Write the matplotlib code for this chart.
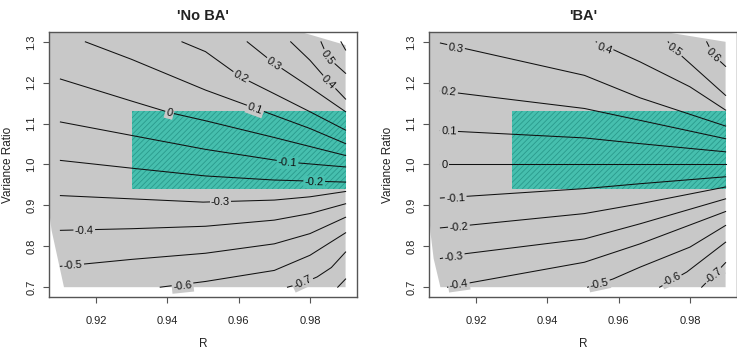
import matplotlib.pyplot as plt
from matplotlib.patches import Rectangle, Polygon

plt.rcParams['font.family'] = ['Liberation Sans', 'DejaVu Sans']
plt.rcParams['hatch.linewidth'] = 0.6

# values
titles = ["'No BA'", "'BA'"]
r_ticks = [0.92, 0.94, 0.96, 0.98]
vr_ticks = [0.7, 0.8, 0.9, 1.0, 1.1, 1.2, 1.3]

# target region (teal box)
box_R = [0.93, 0.99]
box_VR = [0.94, 1.13]

# grey area covered by the simulations
noba_gray_R = [0.9068, 0.9775, 0.99, 0.99, 0.9110, 0.9090, 0.9075, 0.9068]
noba_gray_VR = [1.324, 1.324, 1.292, 0.70, 0.70, 0.78, 0.84, 0.89]
ba_gray_R = [0.9068, 0.973, 0.99, 0.99, 0.9100, 0.9081, 0.9072, 0.9068]
ba_gray_VR = [1.324, 1.324, 1.30, 0.70, 0.70, 0.77, 0.835, 0.89]

# 'No BA' contour lines
noba_R = [
    [0.9887, 0.99],
    [0.9831, 0.985, 0.99],
    [0.9746, 0.980, 0.9845, 0.99],
    [0.9624, 0.970, 0.980, 0.99],
    [0.9441, 0.9507, 0.9606, 0.97, 0.98, 0.99],
    [0.917, 0.93, 0.9507, 0.9648, 0.98, 0.99],
    [0.91, 0.93, 0.9406, 0.9507, 0.97, 0.99],
    [0.91, 0.93, 0.9507, 0.9737, 0.99],
    [0.91, 0.93, 0.9507, 0.97, 0.99],
    [0.91, 0.93, 0.95, 0.97, 0.98, 0.99],
    [0.91, 0.93, 0.9507, 0.97, 0.98, 0.99],
    [0.91, 0.93, 0.9507, 0.97, 0.98, 0.99],
    [0.938, 0.9507, 0.97, 0.98, 0.99],
    [0.9737, 0.978, 0.982, 0.986, 0.99],
    [0.9878, 0.99],
]
noba_VR = [
    [1.30, 1.28],
    [1.30, 1.262, 1.223],
    [1.30, 1.255, 1.21, 1.16],
    [1.30, 1.247, 1.189, 1.129],
    [1.30, 1.276, 1.214, 1.173, 1.129, 1.084],
    [1.30, 1.257, 1.182, 1.137, 1.088, 1.051],
    [1.209, 1.155, 1.127, 1.107, 1.066, 1.022],
    [1.104, 1.071, 1.037, 1.006, 0.994],
    [1.010, 0.991, 0.972, 0.962, 0.957],
    [0.924, 0.916, 0.908, 0.913, 0.921, 0.934],
    [0.839, 0.843, 0.849, 0.864, 0.880, 0.904],
    [0.751, 0.768, 0.783, 0.806, 0.831, 0.871],
    [0.70, 0.714, 0.741, 0.778, 0.833],
    [0.70, 0.71, 0.725, 0.748, 0.786],
    [0.70, 0.72],
]
noba_lab = ['0.5', '0.4', '0.3', '0.2', '0.1', '0', '-0.1', '-0.2', '-0.3', '-0.4', '-0.5', '-0.6', '-0.7']
noba_lab_R = [0.985, 0.9852, 0.9699, 0.9606, 0.9646, 0.9406, 0.9737, 0.9812, 0.9549, 0.9167, 0.9136, 0.9443, 0.978]
noba_lab_VR = [1.262, 1.20, 1.247, 1.214, 1.135, 1.127, 1.004, 0.957, 0.908, 0.837, 0.753, 0.702, 0.712]
noba_lab_rot = [-55, -45, -35, -28, -20, -15, -4, -1, 0, 1, 4, 6, 25]

# 'BA' contour lines
ba_R = [
    [0.9847, 0.9866, 0.99],
    [0.9739, 0.9758, 0.99],
    [0.9537, 0.966, 0.98, 0.99],
    [0.91, 0.9504, 0.966, 0.99],
    [0.91, 0.9504, 0.966, 0.99],
    [0.91, 0.9504, 0.966, 0.99],
    [0.91, 0.99],
    [0.91, 0.9504, 0.966, 0.99],
    [0.91, 0.9185, 0.9504, 0.966, 0.99],
    [0.91, 0.9171, 0.9504, 0.966, 0.99],
    [0.912, 0.9185, 0.9504, 0.966, 0.99],
    [0.9513, 0.9584, 0.966, 0.98, 0.99],
    [0.9715, 0.9791, 0.99],
    [0.9833, 0.9866, 0.99],
]
ba_VR = [
    [1.30, 1.267, 1.24],
    [1.30, 1.28, 1.169],
    [1.30, 1.251, 1.19, 1.133],
    [1.297, 1.218, 1.163, 1.094],
    [1.18, 1.137, 1.108, 1.063],
    [1.083, 1.065, 1.051, 1.031],
    [1.0, 1.0],
    [0.918, 0.941, 0.953, 0.970],
    [0.845, 0.852, 0.880, 0.904, 0.945],
    [0.770, 0.782, 0.818, 0.855, 0.916],
    [0.70, 0.711, 0.761, 0.806, 0.885],
    [0.70, 0.72, 0.749, 0.798, 0.851],
    [0.70, 0.737, 0.810],
    [0.70, 0.729, 0.76],
]
ba_lab = ['0.6', '0.5', '0.4', '0.3', '0.2', '0.1', '0', '-0.1', '-0.2', '-0.3', '-0.4', '-0.5', '-0.6', '-0.7']
ba_lab_R = [0.9866, 0.9758, 0.956, 0.9143, 0.9124, 0.9124, 0.9111, 0.9143, 0.9152, 0.9138, 0.9152, 0.9546, 0.9748, 0.9866]
ba_lab_VR = [1.267, 1.28, 1.284, 1.284, 1.178, 1.081, 1.0, 0.918, 0.847, 0.773, 0.706, 0.708, 0.72, 0.729]
ba_lab_rot = [-45, -35, -20, -10, -6, -2, 0, 3, 4, 6, 8, 12, 25, 40]

GRAY = '#c8c8c8'
TEAL = '#46bfae'
HATCH = '#2a9a8c'


def draw_panel(ax, title, gray_R, gray_VR, Rs, VRs, labs, lab_R, lab_VR, lab_rot):
    ax.add_patch(Polygon(list(zip(gray_R, gray_VR)), closed=True,
                         facecolor=GRAY, edgecolor='none', zorder=1))
    ax.add_patch(Rectangle((box_R[0], box_VR[0]), box_R[1] - box_R[0], box_VR[1] - box_VR[0],
                           facecolor=TEAL, edgecolor=HATCH, hatch='//////', lw=0, zorder=2))
    for r, v in zip(Rs, VRs):
        ax.plot(r, v, color='#111111', lw=0.75, zorder=3)
    for t, r, v, rot in zip(labs, lab_R, lab_VR, lab_rot):
        # label gap takes the colour of what lies under it
        inside = (box_R[0] <= r <= box_R[1]) and (box_VR[0] + 0.01 <= v <= box_VR[1] - 0.01)
        ax.text(r, v, t, fontsize=8, rotation=rot, rotation_mode='anchor',
                ha='center', va='center', color='#111111', zorder=4,
                bbox=dict(boxstyle='square,pad=0.12', fc=TEAL if inside else GRAY, ec='none'))

    ax.set_xlim(0.9068, 0.9932)
    ax.set_ylim(0.676, 1.324)
    ax.set_xticks(r_ticks)
    ax.set_xticklabels([f'{x:.2f}' for x in r_ticks])
    ax.set_yticks(vr_ticks)
    ax.set_yticklabels([f'{y:.1f}' for y in vr_ticks], rotation=90, va='center')
    ax.tick_params(axis='x', length=4, pad=10, labelsize=8, color='#555555', labelcolor='#222222')
    ax.tick_params(axis='y', length=4, pad=5, labelsize=8, color='#555555', labelcolor='#222222')
    for s in ax.spines.values():
        s.set_color('#555555')
        s.set_linewidth(1.0)
    ax.set_xlabel('R', fontsize=8.5, labelpad=8, color='#222222')
    ax.set_ylabel('Variance Ratio', fontsize=8.5, labelpad=9, color='#222222')
    ax.set_title(title, fontsize=10.5, fontweight='bold', pad=9, color='#222222')


fig = plt.figure(figsize=(7.37, 3.5), dpi=100)
ax1 = fig.add_axes([49 / 737, 53 / 350, 308 / 737, 265 / 350])
ax2 = fig.add_axes([429 / 737, 53 / 350, 308 / 737, 265 / 350])

draw_panel(ax1, titles[0], noba_gray_R, noba_gray_VR, noba_R, noba_VR,
           noba_lab, noba_lab_R, noba_lab_VR, noba_lab_rot)
draw_panel(ax2, titles[1], ba_gray_R, ba_gray_VR, ba_R, ba_VR,
           ba_lab, ba_lab_R, ba_lab_VR, ba_lab_rot)

fig.savefig('out.png', dpi=100)
